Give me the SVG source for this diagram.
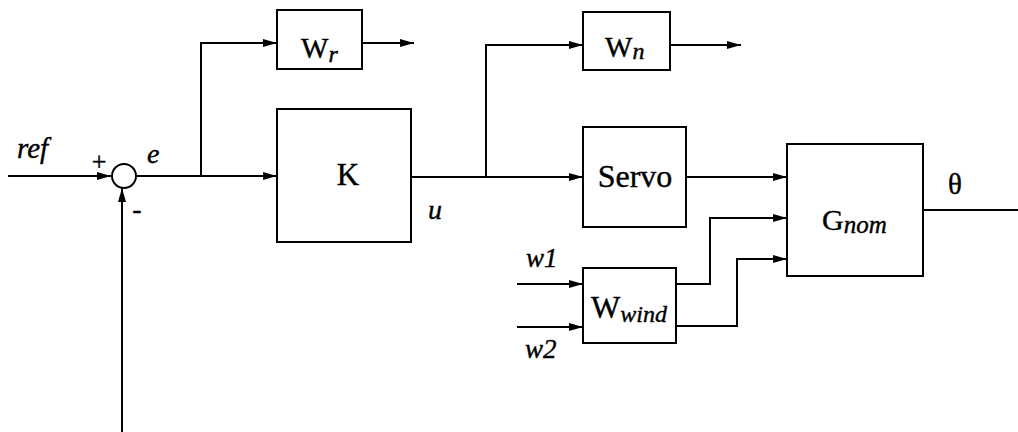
<svg xmlns="http://www.w3.org/2000/svg" width="1018" height="432" viewBox="0 0 1018 432">
<style>
.box{fill:#fff;stroke:#000;stroke-width:2}
.ln{fill:none;stroke:#000;stroke-width:2}
.t{font-family:"Liberation Serif","Times New Roman",serif;fill:#000;stroke:#000;stroke-width:0.4}
.i{font-style:italic}
</style>
<defs>
<marker id="ar" markerUnits="userSpaceOnUse" markerWidth="16" markerHeight="10" refX="14" refY="5" orient="auto">
<polygon points="0,1 14,5 0,9" fill="#000"/>
</marker>
</defs>
<rect width="1018" height="432" fill="#fff"/>
<g id="connectors">
<path class="ln" d="M8,176 H111" marker-end="url(#ar)"/>
<path class="ln" d="M136,176 H277" marker-end="url(#ar)"/>
<path class="ln" d="M201,176 V43 H277" marker-end="url(#ar)"/>
<path class="ln" d="M362,43 H414" marker-end="url(#ar)"/>
<path class="ln" d="M411,177 H583" marker-end="url(#ar)"/>
<path class="ln" d="M486,177 V45 H583" marker-end="url(#ar)"/>
<path class="ln" d="M670,45 H741" marker-end="url(#ar)"/>
<path class="ln" d="M686,177 H787" marker-end="url(#ar)"/>
<path class="ln" d="M676,284 H710 V218 H787" marker-end="url(#ar)"/>
<path class="ln" d="M676,326 H737 V259 H787" marker-end="url(#ar)"/>
<path class="ln" d="M517,284 H583" marker-end="url(#ar)"/>
<path class="ln" d="M517,327 H583" marker-end="url(#ar)"/>
<path class="ln" d="M923,210 H1018"/>
<path class="ln" d="M122,432 V188" marker-end="url(#ar)"/>
</g>
<g id="sum">
<circle cx="124" cy="176" r="12" fill="#fff" stroke="#000" stroke-width="2"/>
<text class="t" x="99" y="170" font-size="26" text-anchor="middle">+</text>
<text class="t" x="137" y="218" font-size="28" text-anchor="middle">-</text>
</g>
<g id="labels">
<text class="t i" x="17" y="158" font-size="29">ref</text>
<text class="t i" x="147" y="163" font-size="28">e</text>
<text class="t i" x="428" y="219" font-size="28">u</text>
<text class="t i" x="526" y="267" font-size="27">w1</text>
<text class="t i" x="525" y="358" font-size="27">w2</text>
<text class="t" x="955" y="194" font-size="29" text-anchor="middle">θ</text>
</g>
<g id="Wr">
<rect class="box" x="277" y="10" width="85" height="59"/>
<text class="t" x="301" y="58" font-size="29">W<tspan class="i" font-size="24" dy="4">r</tspan></text>
</g>
<g id="K">
<rect class="box" x="277" y="109" width="134" height="133"/>
<text class="t" x="348" y="185" font-size="31" text-anchor="middle">K</text>
</g>
<g id="Wn">
<rect class="box" x="583" y="12" width="87" height="58"/>
<text class="t" x="605" y="57" font-size="29">W<tspan class="i" font-size="24" dy="2">n</tspan></text>
</g>
<g id="Servo">
<rect class="box" x="583" y="127" width="103" height="100"/>
<text class="t" x="635" y="187" font-size="32" text-anchor="middle">Servo</text>
</g>
<g id="Gnom">
<rect class="box" x="787" y="144" width="136" height="132"/>
<text class="t" x="822" y="230" font-size="30">G<tspan class="i" font-size="25" dy="3">nom</tspan></text>
</g>
<g id="Wwind">
<rect class="box" x="583" y="268" width="93" height="75"/>
<text class="t" x="591" y="318" font-size="31">W<tspan class="i" font-size="24" dy="4">wind</tspan></text>
</g>
</svg>
